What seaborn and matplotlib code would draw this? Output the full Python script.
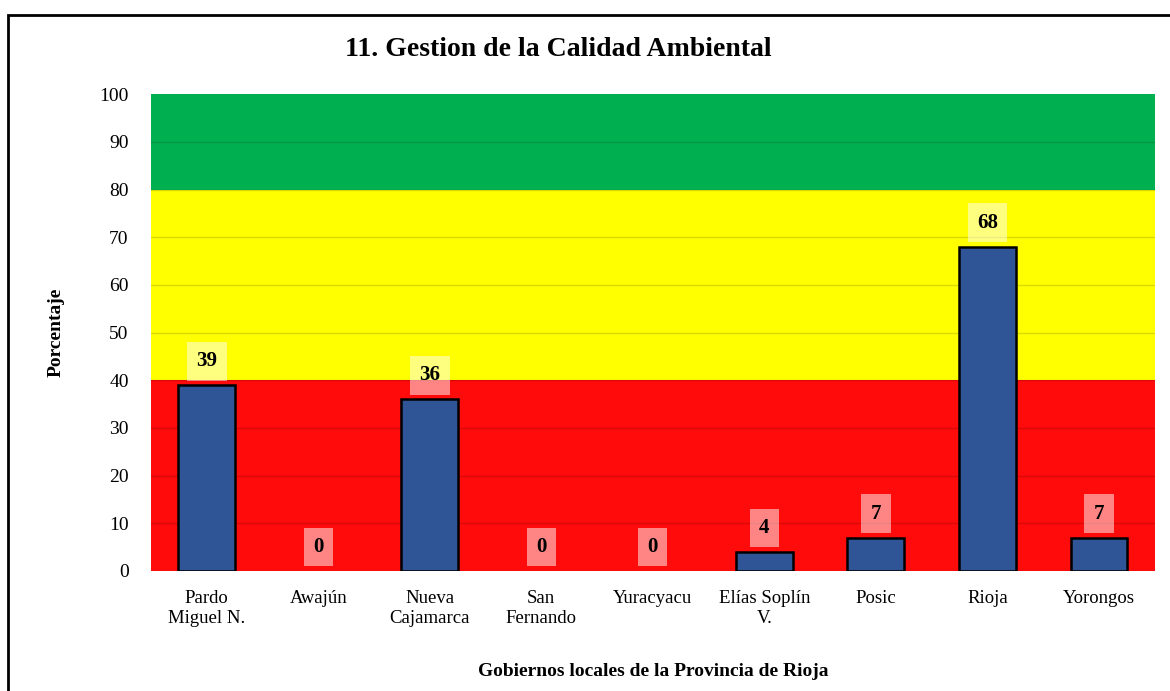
import pandas as pd
import matplotlib
matplotlib.use("Agg")
import matplotlib.pyplot as plt
import seaborn as sns
from matplotlib.patches import Rectangle

# data
gobiernos = ["Pardo\nMiguel N.", "Awajún", "Nueva\nCajamarca", "San\nFernando",
             "Yuracyacu", "Elías Soplín\nV.", "Posic", "Rioja", "Yorongos"]
porcentaje = [39, 0, 36, 0, 0, 4, 7, 68, 7]

# semaforo bands (lower, upper, colour)
bandas_inf = [0, 40, 80]
bandas_sup = [40, 80, 100]
bandas_color = ["#FF0B0B", "#FFFF00", "#00B050"]

df = pd.DataFrame({"Gobierno": gobiernos, "Porcentaje": porcentaje})

sns.set_style("white")
plt.rcParams["font.family"] = ["Liberation Serif", "DejaVu Serif"]
plt.rcParams["text.color"] = "black"
plt.rcParams["axes.labelcolor"] = "black"
plt.rcParams["xtick.color"] = "black"
plt.rcParams["ytick.color"] = "black"

fig = plt.figure(figsize=(11.7, 6.91), dpi=100)
ax = fig.add_axes([0.129, 0.1737, 0.858, 0.690])

for lo, hi, c in zip(bandas_inf, bandas_sup, bandas_color):
    ax.axhspan(lo, hi, color=c, zorder=0, lw=0)
for y in range(10, 100, 10):
    ax.axhline(y, color="black", alpha=0.15, lw=1, zorder=0.5)

sns.barplot(data=df, x="Gobierno", y="Porcentaje", color="#2F5597",
            edgecolor="black", linewidth=1.8, width=0.51, saturation=1,
            ax=ax, zorder=2)
# zero-height bars are not drawn in the original
for bar, v in zip(ax.containers[-1], porcentaje):
    if v == 0:
        bar.set_visible(False)

for i, v in enumerate(porcentaje):
    ax.annotate(str(v), (i, v), xytext=(0, 10), textcoords="offset points",
                ha="center", va="bottom", fontsize=15, fontweight="bold",
                bbox=dict(boxstyle="square,pad=0.45", fc="white", ec="none", alpha=0.5),
                zorder=3)

ax.set_ylim(0, 100)
ax.set_xlim(-0.5, len(gobiernos) - 0.5)
ax.set_yticks(range(0, 101, 10))
ax.tick_params(axis="y", labelsize=14, length=0, pad=16)
ax.tick_params(axis="x", labelsize=13.5, length=0, pad=14)
for s in ax.spines.values():
    s.set_visible(False)

ax.set_ylabel("Porcentaje", fontsize=14, fontweight="bold", labelpad=25)
ax.set_xlabel("Gobiernos locales de la Provincia de Rioja", fontsize=14,
              fontweight="bold", labelpad=26)
fig.text(0.477, 0.929, "11. Gestion de la Calidad Ambiental", ha="center",
         va="center", fontsize=20, fontweight="bold")

# outer chart frame (left and top edges visible)
fig.patches.append(Rectangle((8 / 1170, -0.1), 1.2, 0.1 + (691 - 15) / 691,
                             transform=fig.transFigure, fill=False,
                             ec="black", lw=2))

fig.savefig("out.png", dpi=100)
